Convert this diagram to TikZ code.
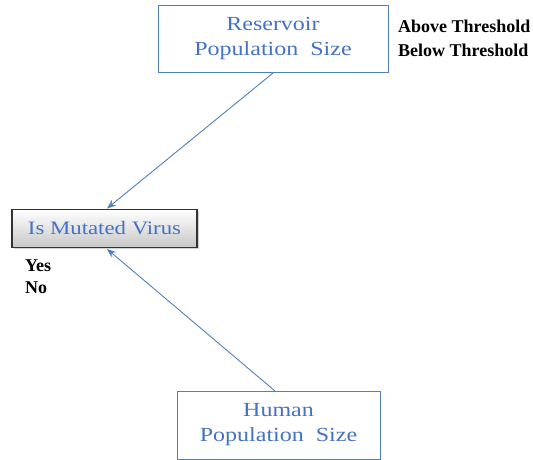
\documentclass[tikz,border=0pt]{standalone}
\usepackage{fontspec}
\setmainfont{Liberation Serif}
\newfontfamily\widefont[FakeStretch=1.2]{Liberation Serif}
\usetikzlibrary{shadows,arrows.meta}
\definecolor{boxblue}{RGB}{79,129,189}
\definecolor{txtblue}{RGB}{68,114,196}
\begin{document}
\begin{tikzpicture}[x=1pt,y=-1pt,
  plainbox/.style={draw=boxblue,line width=1pt,fill=white,text=txtblue,align=center,font=\widefont\fontsize{20}{25}\selectfont,inner sep=0pt},
  mutbox/.style={draw=black!80,line width=1.3pt,top color=white,bottom color=black!22,text=txtblue,font=\widefont\fontsize{19}{22}\selectfont,inner sep=0pt,drop shadow={shadow xshift=1.5pt,shadow yshift=-1.5pt,opacity=0.35}},
  lbl/.style={font=\bfseries\fontsize{18}{20}\selectfont,anchor=west,inner sep=0pt},
  conn/.style={draw=boxblue,line width=0.9pt,-{Stealth[length=9pt,width=7pt]}}]
\useasboundingbox (0,0) rectangle (533,459);
\node[plainbox,minimum width=230pt,minimum height=67pt] (res) at (273,38.5) {Reservoir\\Population\ \ Size};
\node[plainbox,minimum width=203pt,minimum height=68pt] (hum) at (278.5,425) {Human\\Population\ \ Size};
\node[mutbox,minimum width=185pt,minimum height=38pt] (mut) at (104.5,228.5) {Is Mutated Virus};
\node[lbl] (a1) at (398,26) {Above Threshold};
\node[lbl] (a2) at (398,50) {Below Threshold};
\node[lbl] (y1) at (25,266) {Yes};
\node[lbl] (y2) at (25,288) {No};
\coordinate (rs) at (273,73);
\coordinate (hs) at (275,391);
\coordinate (mt) at (107,208.5);
\coordinate (mb) at (107,249);
\draw[conn] (rs) -- (mt);
\draw[conn] (hs) -- (mb);
\end{tikzpicture}
\end{document}
